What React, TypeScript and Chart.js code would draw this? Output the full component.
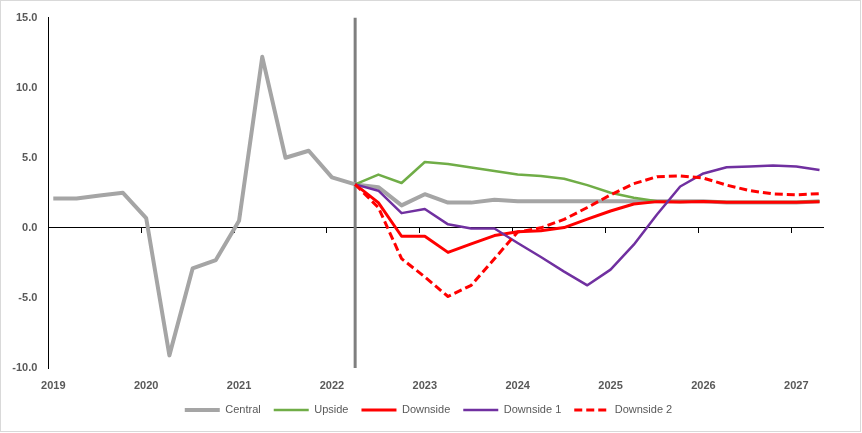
import React, { useEffect, useRef } from 'react';
import { Chart, registerables } from 'chart.js';

Chart.register(...registerables);

// Year labels (first quarter of each year), quarterly series from 2019 Q1 to 2027 Q2
const yearLabels = ['2019', '2020', '2021', '2022', '2023', '2024', '2025', '2026', '2027'];
const yTickValues = [-10, -5, 0, 5, 10, 15];

// Index of the first forecast quarter (2022 Q2) where all scenarios start
const forecastStart = 13;

const central = [
  2.1, 2.1, 2.3, 2.5, 0.7, -9.1, -2.9, -2.3, 0.5, 12.2, 5.0, 5.5, 3.6,
  3.1, 2.9, 1.6, 2.4, 1.8, 1.8, 2.0, 1.9, 1.9, 1.9, 1.9, 1.9, 1.9, 1.9, 1.9, 1.9, 1.8, 1.8, 1.8, 1.8, 1.9,
];
const upside = [3.1, 3.8, 3.2, 4.7, 4.55, 4.3, 4.05, 3.8, 3.7, 3.5, 3.05, 2.5, 2.15, 1.9, 1.85, 1.9, 1.85, 1.85, 1.85, 1.85, 1.9];
const downside = [3.1, 1.8, -0.6, -0.6, -1.75, -1.15, -0.55, -0.28, -0.2, 0.02, 0.62, 1.2, 1.7, 1.87, 1.84, 1.88, 1.82, 1.82, 1.82, 1.83, 1.87];
const downside1 = [3.1, 2.65, 1.05, 1.35, 0.25, -0.05, -0.05, -1.08, -2.08, -3.12, -4.1, -2.98, -1.2, 0.95, 2.95, 3.88, 4.32, 4.38, 4.44, 4.38, 4.12];
const downside2 = [3.1, 1.45, -2.2, -3.5, -4.9, -4.1, -2.2, -0.3, 0.0, 0.6, 1.45, 2.35, 3.15, 3.65, 3.7, 3.55, 3.05, 2.65, 2.42, 2.36, 2.44];

const X_MIN = -0.215;
const X_MAX = 33.15;

const toPoints = (values: number[], start: number) => values.map((v, i) => ({ x: start + i, y: v }));

const tickFont = { family: 'Liberation Sans', size: 11, weight: 'bold' as const };

// Shift the legend row so it is centred like the original
const legendShift = {
  id: 'legendShift',
  afterLayout(chart: any) {
    const lg = chart.legend;
    if (lg) {
      lg.left += 17;
      lg.right += 17;
    }
  },
};

export default function App() {
  const canvasRef = useRef<HTMLCanvasElement | null>(null);

  useEffect(() => {
    if (!canvasRef.current) return;
    const chart = new Chart(canvasRef.current, {
      type: 'line',
      data: {
        datasets: [
          {
            label: '',
            data: [
              { x: forecastStart, y: yTickValues[yTickValues.length - 1] },
              { x: forecastStart, y: yTickValues[0] },
            ],
            borderColor: '#7F7F7F',
            borderWidth: 3,
            pointRadius: 0,
            order: 10,
          },
          {
            label: 'Central',
            data: toPoints(central, 0),
            borderColor: '#A5A5A5',
            backgroundColor: '#A5A5A5',
            borderWidth: 4,
            pointRadius: 0,
            borderJoinStyle: 'round',
            order: 5,
          },
          {
            label: 'Upside',
            data: toPoints(upside, forecastStart),
            borderColor: '#70AD47',
            backgroundColor: '#70AD47',
            borderWidth: 2.5,
            pointRadius: 0,
            borderJoinStyle: 'round',
            order: 4,
          },
          {
            label: 'Downside',
            data: toPoints(downside, forecastStart),
            borderColor: '#FF0000',
            backgroundColor: '#FF0000',
            borderWidth: 3,
            pointRadius: 0,
            borderJoinStyle: 'round',
            order: 3,
          },
          {
            label: 'Downside 1',
            data: toPoints(downside1, forecastStart),
            borderColor: '#7030A0',
            backgroundColor: '#7030A0',
            borderWidth: 2.5,
            pointRadius: 0,
            borderJoinStyle: 'round',
            order: 2,
          },
          {
            label: 'Downside 2',
            data: toPoints(downside2, forecastStart),
            borderColor: '#FF0000',
            backgroundColor: '#FF0000',
            borderWidth: 3,
            borderDash: [8, 4],
            pointRadius: 0,
            borderJoinStyle: 'round',
            order: 1,
          },
        ],
      },
      options: {
        animation: false,
        responsive: false,
        devicePixelRatio: 1,
        layout: { padding: { left: 0, right: 39, top: 15, bottom: 7.5 } },
        plugins: {
          tooltip: { enabled: false },
          legend: {
            position: 'bottom',
            labels: {
              usePointStyle: true,
              pointStyle: 'line',
              pointStyleWidth: 35,
              color: '#595959',
              font: { family: 'Liberation Sans', size: 11 },
              padding: 13,
              generateLabels: (c: any) => {
                const items = Chart.defaults.plugins.legend.labels.generateLabels(c);
                return items
                  .filter((it: any) => it.text !== '')
                  .sort((a: any, b: any) => a.datasetIndex - b.datasetIndex)
                  .map((it: any) => {
                    const ds: any = c.data.datasets[it.datasetIndex];
                    return {
                      ...it,
                      strokeStyle: ds.borderColor,
                      fillStyle: ds.borderColor,
                      lineWidth: ds.borderWidth,
                      lineDash: ds.borderDash || [],
                      lineCap: 'butt',
                      pointStyle: 'line',
                    };
                  });
              },
            },
          },
        },
        scales: {
          x: {
            type: 'linear',
            position: 'bottom',
            min: X_MIN,
            max: X_MAX,
            afterBuildTicks: (s: any) => {
              s.ticks = yearLabels.map((_, k) => ({ value: k * 4 }));
            },
            afterFit: (s: any) => {
              s.height = 23.5;
            },
            ticks: {
              autoSkip: false,
              maxRotation: 0,
              padding: 11,
              color: '#595959',
              font: tickFont,
              callback: (_v: any, i: number) => yearLabels[i],
            },
            grid: { display: false, drawTicks: false },
            border: { display: false },
          },
          x0: {
            type: 'linear',
            axis: 'x',
            position: { y: 0 },
            min: X_MIN,
            max: X_MAX,
            afterBuildTicks: (s: any) => {
              s.ticks = yearLabels.map((_, k) => ({ value: X_MIN + k * 4 }));
            },
            ticks: { display: false },
            grid: {
              display: true,
              drawOnChartArea: false,
              drawTicks: true,
              tickLength: 5,
              color: '#000000',
              tickColor: '#000000',
              tickWidth: 1,
            },
            border: { display: true, color: '#000000', width: 1 },
          },
          y: {
            type: 'linear',
            min: yTickValues[0],
            max: yTickValues[yTickValues.length - 1],
            afterBuildTicks: (s: any) => {
              s.ticks = yTickValues.map((v) => ({ value: v }));
            },
            afterFit: (s: any) => {
              s.width = 48.3;
            },
            ticks: {
              padding: 11,
              color: '#595959',
              font: tickFont,
              callback: (v: any) => Number(v).toFixed(1),
            },
            grid: { display: false, drawTicks: false },
            border: { display: true, color: '#000000', width: 1 },
          },
        },
      } as any,
      plugins: [legendShift],
    });
    return () => chart.destroy();
  }, []);

  return (
    <div style={{ position: 'fixed', left: 0, top: 0, width: 862, height: 433, background: '#ffffff' }}>
      <canvas ref={canvasRef} width={862} height={433} style={{ position: 'absolute', left: 0, top: 0, width: 862, height: 433 }} />
      <div
        style={{
          position: 'absolute',
          left: 0,
          top: 0,
          width: 861,
          height: 432,
          boxSizing: 'border-box',
          border: '1px solid #D9D9D9',
          pointerEvents: 'none',
        }}
      />
    </div>
  );
}
